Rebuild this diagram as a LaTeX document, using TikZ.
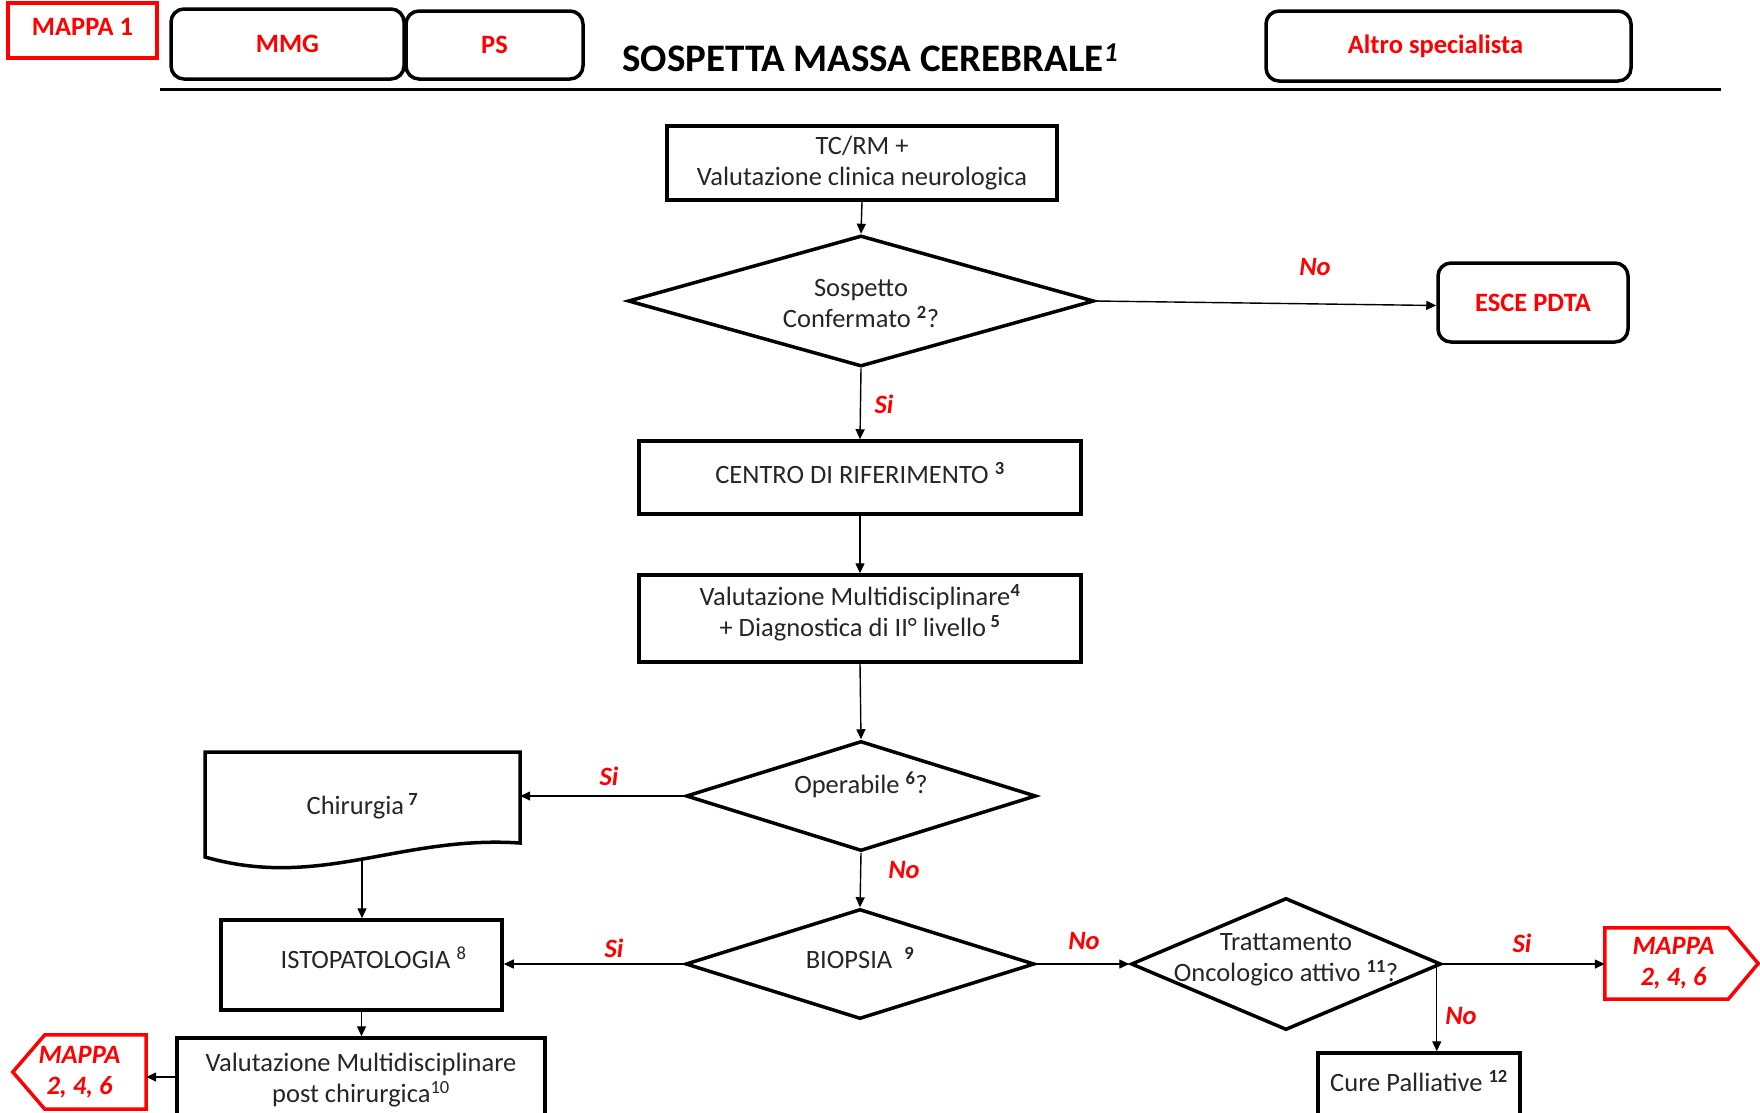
\documentclass[tikz,border=0pt]{standalone}
\usepackage{fontspec}
\setmainfont{Carlito}
\usetikzlibrary{shapes.geometric,arrows.meta,calc}
\definecolor{txt}{HTML}{262626}
\definecolor{mred}{HTML}{FF0000}
% text that does not enlarge its node; optional argument lowers it
\newcommand\flattext[2][0pt]{\smash{\makebox[0pt]{\raisebox{-#1}{\begin{tabular}{@{}c@{}}#2\end{tabular}}}}}

\begin{document}
\begin{tikzpicture}[x=1pt,y=-1pt,
  box/.style={draw=black, line width=3.5pt, rectangle, inner sep=0pt, align=center,
    text=txt, font=\fontsize{26.5}{31}\selectfont},
  dec/.style={draw=black, line width=3.5pt, diamond, inner sep=0pt, align=center,
    text=txt, font=\fontsize{26.5}{31}\selectfont},
  rbox/.style={draw=black, line width=3.5pt, rounded corners=13pt, rectangle, inner sep=0pt,
    text=mred, font=\bfseries\fontsize{26.5}{30}\selectfont},
  arr/.style={line width=1.4pt, -{Triangle[length=10pt,width=9pt]}},
  lab/.style={text=mred, font=\bfseries\itshape\fontsize{26.5}{30}\selectfont},
  mappa/.style={rectangle, inner sep=0pt, align=center,
    text=mred, font=\bfseries\itshape\fontsize{26.5}{31}\selectfont},
  redline/.style={draw=mred, line width=3.5pt, line join=miter}
]
\useasboundingbox (0,0) rectangle (1760,1112);
\fill[white] (0,0) rectangle (1760,1112);

% header
\node[draw=mred, line width=3.5pt, rectangle, minimum width=149pt, minimum height=55pt,
  text=mred, font=\bfseries\fontsize{26.5}{30}\selectfont] (m1) at (82.5,30.5) {\raisebox{8pt}{MAPPA 1}};
\node[rbox, minimum width=233pt, minimum height=70pt] (mmg) at (287.5,44) {MMG};
\node[rbox, minimum width=177pt, minimum height=68pt] (ps) at (494.5,45) {PS};
\node[anchor=base west, inner sep=0pt, font=\bfseries\fontsize{39}{44}\selectfont, text=black]
  (title) at (622,71) {SOSPETTA MASSA CEREBRALE\textsuperscript{\textit{1}}};
\node[rbox, minimum width=365pt, minimum height=70pt] (altro) at (1448.5,46)
  {Altro specialista\hspace*{26pt}};
\draw[line width=3pt] (160,89) -- (1721,89);

% main column
\node[box, minimum width=390pt, minimum height=74pt] (tc) at (862,163)
  {TC/RM +\\Valutazione clinica neurologica};
\node[dec, minimum width=466pt, minimum height=131pt] (d1) at (861,301)
  {\flattext[11pt]{Sospetto\\Confermato \textsuperscript{\textbf{2}}?}};
\node[rbox, minimum width=190pt, minimum height=79pt] (esce) at (1533,302.5) {ESCE PDTA};
\node[box, minimum width=442pt, minimum height=73pt] (cr) at (860,477.5)
  {\flattext[6pt]{CENTRO DI RIFERIMENTO \textsuperscript{\textbf{3}}}};
\node[box, minimum width=442pt, minimum height=87pt] (vm) at (860,618.5)
  {\flattext[3pt]{Valutazione Multidisciplinare\textsuperscript{\textbf{4}}\\+ Diagnostica di II° livello\,\textsuperscript{\textbf{5}}}};
\node[dec, minimum width=350pt, minimum height=110pt] (op) at (861,796)
  {\flattext[-2pt]{Operabile \textsuperscript{\textbf{6}}?}};
\node[dec, minimum width=349pt, minimum height=110pt] (bio) at (860,964)
  {\flattext[4.5pt]{BIOPSIA\ \ \textsuperscript{\textbf{9}}}};

% surgical branch
\node[inner sep=0pt, minimum width=315pt, minimum height=90pt, text=txt,
  font=\fontsize{26.5}{31}\selectfont] (chir) at (362.5,806) {Chirurgia\,\textsuperscript{\textbf{7}}};
\draw[line width=3.5pt, line join=miter] (205,752) -- (520,752) -- (520,843)
  .. controls (400,835) and (320,890) .. (205,857) -- cycle;
\coordinate (chirb) at (362,860);
\node[box, minimum width=281pt, minimum height=90pt] (isto) at (361.5,965)
  {\flattext[3.5pt]{\hspace*{24pt}ISTOPATOLOGIA \textsuperscript{8}}};
\node[box, minimum width=368pt, minimum height=78pt] (vp) at (361,1077)
  {\flattext[10pt]{Valutazione Multidisciplinare\\post chirurgica\textsuperscript{10}}};
\node[mappa, minimum width=133pt, minimum height=74pt] (mL) at (79.5,1072)
  {MAPPA\\2, 4, 6};
\draw[redline] ([xshift=32pt]mL.north west) -- (mL.north east) -- (mL.south east)
  -- ([xshift=32pt]mL.south west) -- (mL.west) -- cycle;

% oncological branch
\node[dec, minimum width=310pt, minimum height=132pt] (tr) at (1286,964)
  {\flattext[2.5pt]{Trattamento\\Oncologico attivo \textsuperscript{\textbf{11}}?}};
\node[mappa, minimum width=153pt, minimum height=71pt] (mR) at (1681.5,963.5)
  {MAPPA\hspace*{16pt}\\2, 4, 6\hspace*{16pt}};
\draw[redline] (mR.north west) -- ([xshift=-30pt]mR.north east) -- (mR.east)
  -- ([xshift=-30pt]mR.south east) -- (mR.south west) -- cycle;
\node[box, minimum width=202pt, minimum height=63pt] (cure) at (1419,1084.5)
  {\flattext[7pt]{Cure Palliative \textsuperscript{\textbf{12}}}};

% connectors
\draw[arr] (tc.south) -- (d1.north);
\draw[arr] (d1.east) -- ([yshift=-3pt]esce.west);
\node[lab] at (1315,267) {No};
\draw[arr] (d1.south) -- (cr.north);
\node[lab] at (884,404) {Si};
\draw[arr] (cr.south) -- (vm.north);
\draw[arr] (vm.south) -- (op.north);
\draw[arr] (op.west) -- (op.west -| chir.east);
\node[lab] at (609,776) {Si};
\draw[arr] (op.south) -- (bio.north);
\node[lab] at (904,870) {No};
\draw[arr] (chirb) -- (chirb |- isto.north);
\draw[arr] (bio.west) -- (bio.west -| isto.east);
\node[lab] at (614,948) {Si};
\draw[arr] (isto.south) -- (isto.south |- vp.north);
\draw[arr] (vp.west) -- (vp.west -| mL.east);
\draw[arr] (bio.east) -- (tr.west);
\node[lab] at (1084,941) {No};
\draw[arr] (tr.east) -- (tr.east -| mR.west);
\node[lab] at (1522,943) {Si};
\draw[arr] ([xshift=-6pt]tr.east) -- ([xshift=-6pt]tr.east |- cure.north);
\node[lab] at (1461,1016) {No};
\end{tikzpicture}
\end{document}
